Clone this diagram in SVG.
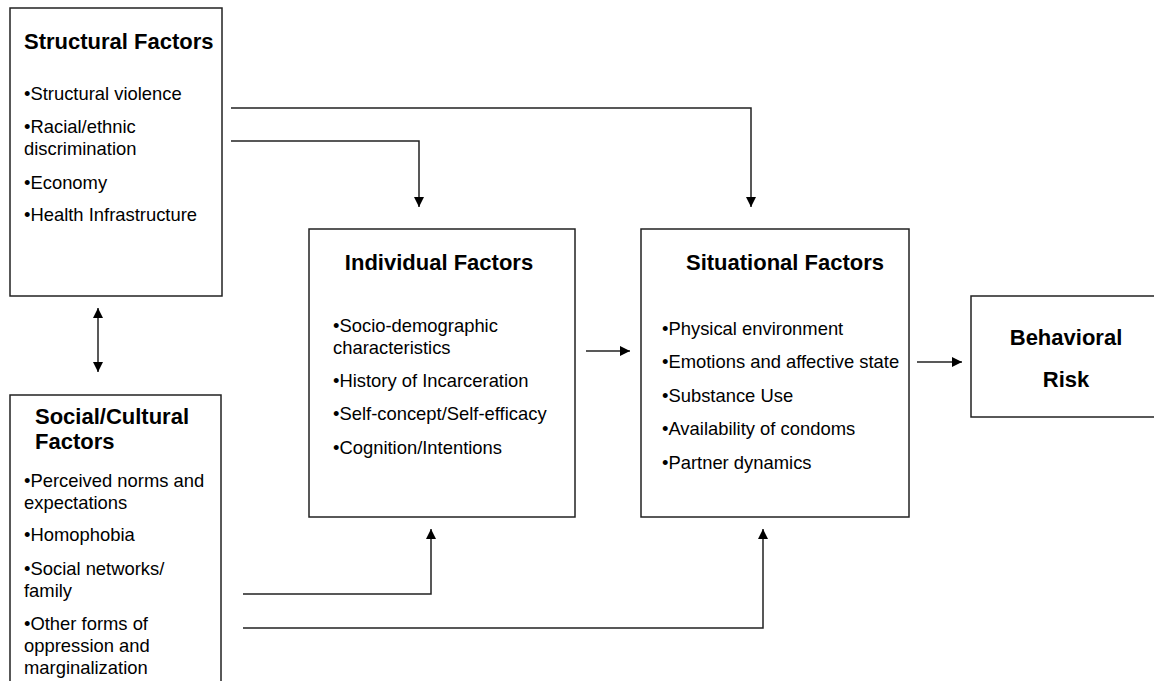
<svg xmlns="http://www.w3.org/2000/svg" width="1154" height="681" viewBox="0 0 1154 681">
<style>
.box{fill:#fff;stroke:#222;stroke-width:1.5}
.t{font-family:"Liberation Sans",Arial,sans-serif;font-size:22px;font-weight:bold;fill:#000}
.b{font-family:"Liberation Sans",Arial,sans-serif;font-size:18.4px;fill:#000}
.c{fill:none;stroke:#222;stroke-width:1.5}
</style>
<defs>
<marker id="ah" viewBox="0 0 10 10" refX="10" refY="5" markerWidth="10" markerHeight="10" markerUnits="userSpaceOnUse" orient="auto-start-reverse">
<path d="M0,0 L10,5 L0,10 z" fill="#000"/>
</marker>
</defs>
<rect width="1154" height="681" fill="#fff"/>
<g id="structural">
<rect class="box" x="10" y="8" width="212" height="288"/>
<text class="t" x="24" y="49">Structural Factors</text>
<text class="b" x="24" y="100">•Structural violence</text>
<text class="b" x="24" y="133">•Racial/ethnic</text>
<text class="b" x="24" y="155">discrimination</text>
<text class="b" x="24" y="189">•Economy</text>
<text class="b" x="24" y="221">•Health Infrastructure</text>
</g>
<g id="social">
<rect class="box" x="10" y="395" width="211" height="300"/>
<text class="t" x="35" y="424">Social/Cultural</text>
<text class="t" x="35" y="449">Factors</text>
<text class="b" x="24" y="487">•Perceived norms and</text>
<text class="b" x="24" y="509">expectations</text>
<text class="b" x="24" y="541">•Homophobia</text>
<text class="b" x="24" y="575">•Social networks/</text>
<text class="b" x="24" y="597">family</text>
<text class="b" x="24" y="630">•Other forms of</text>
<text class="b" x="24" y="652">oppression and</text>
<text class="b" x="24" y="674">marginalization</text>
</g>
<g id="individual">
<rect class="box" x="309" y="229" width="266" height="288"/>
<text class="t" x="439" y="270" text-anchor="middle">Individual Factors</text>
<text class="b" x="333" y="332">•Socio-demographic</text>
<text class="b" x="333" y="354">characteristics</text>
<text class="b" x="333" y="387">•History of Incarceration</text>
<text class="b" x="333" y="420">•Self-concept/Self-efficacy</text>
<text class="b" x="333" y="454">•Cognition/Intentions</text>
</g>
<g id="situational">
<rect class="box" x="641" y="229" width="268" height="288"/>
<text class="t" x="785" y="270" text-anchor="middle">Situational Factors</text>
<text class="b" x="662" y="335">•Physical environment</text>
<text class="b" x="662" y="368">•Emotions and affective state</text>
<text class="b" x="662" y="402">•Substance Use</text>
<text class="b" x="662" y="435">•Availability of condoms</text>
<text class="b" x="662" y="469">•Partner dynamics</text>
</g>
<g id="behavioral">
<rect class="box" x="971" y="296" width="200" height="121"/>
<text class="t" x="1066" y="345" text-anchor="middle">Behavioral</text>
<text class="t" x="1066" y="387" text-anchor="middle">Risk</text>
</g>
<g id="connectors">
<path class="c" d="M231,108 H751 V207" marker-end="url(#ah)"/>
<path class="c" d="M231,141 H419 V207" marker-end="url(#ah)"/>
<path class="c" d="M586,351 H630" marker-end="url(#ah)"/>
<path class="c" d="M917,362 H962" marker-end="url(#ah)"/>
<path class="c" d="M98,308 V372" marker-start="url(#ah)" marker-end="url(#ah)"/>
<path class="c" d="M243,594 H431 V529" marker-end="url(#ah)"/>
<path class="c" d="M243,628 H763 V529" marker-end="url(#ah)"/>
</g>
</svg>
